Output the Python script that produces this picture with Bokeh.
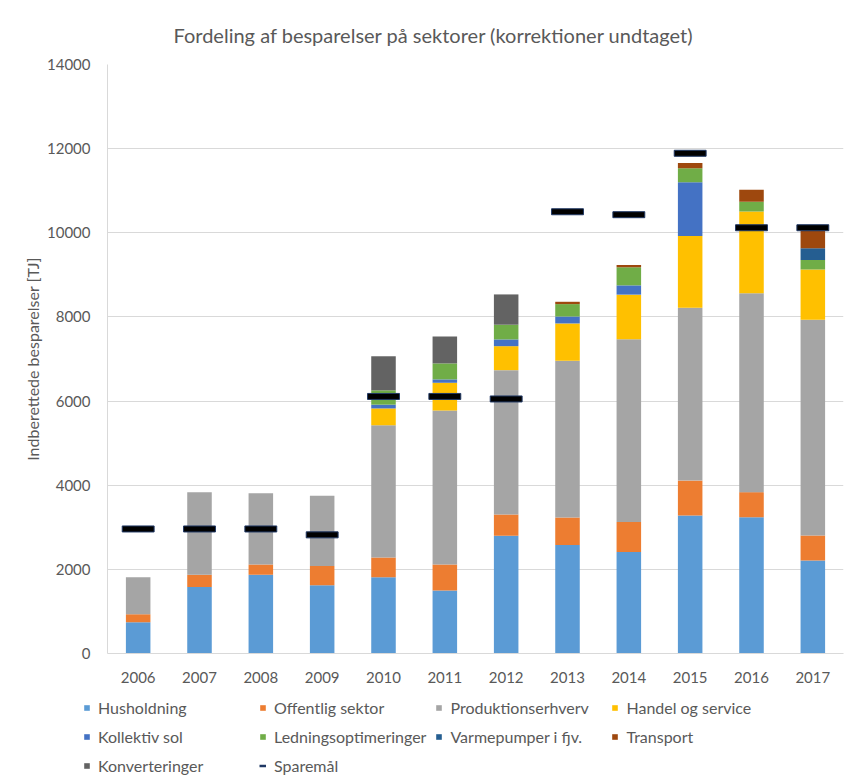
from bokeh.plotting import figure
from bokeh.layouts import column
from bokeh.models import (Legend, LegendItem, ColumnDataSource,
                          FixedTicker, Range1d)
from bokeh.embed import file_html
from bokeh.resources import INLINE

# ---------------- data ----------------
years = ["2006", "2007", "2008", "2009", "2010", "2011",
         "2012", "2013", "2014", "2015", "2016", "2017"]
husholdning = [740, 1580, 1870, 1620, 1810, 1500, 2800, 2580, 2410, 3280, 3240, 2210]
offentlig = [190, 290, 245, 460, 470, 615, 505, 655, 715, 830, 595, 595]
produktion = [880, 1965, 1695, 1670, 3145, 3660, 3430, 3725, 4345, 4110, 4730, 5125]
handel = [0, 0, 0, 0, 400, 660, 570, 885, 1060, 1705, 1940, 1195]
kollektiv_sol = [0, 0, 0, 0, 90, 80, 160, 165, 220, 1275, 0, 0]
ledning = [0, 0, 0, 0, 340, 380, 350, 295, 430, 335, 230, 230]
varmepumper = [0, 0, 0, 0, 0, 0, 0, 0, 0, 0, 0, 275]
transport = [0, 0, 0, 0, 0, 0, 0, 55, 55, 125, 285, 420]
konverteringer = [0, 0, 0, 0, 810, 640, 720, 0, 0, 0, 0, 0]
sparemaal = [2960, 2960, 2960, 2820, 6110, 6110, 6050, 10500, 10430, 11890, 10120, 10120]

series_names = ["Husholdning", "Offentlig sektor", "Produktionserhverv",
                "Handel og service", "Kollektiv sol", "Ledningsoptimeringer",
                "Varmepumper i fjv.", "Transport", "Konverteringer"]
series_values = [husholdning, offentlig, produktion, handel, kollektiv_sol,
                 ledning, varmepumper, transport, konverteringer]
colors = ["#5B9BD5", "#ED7D31", "#A5A5A5", "#FFC000", "#4472C4",
          "#70AD47", "#255E91", "#9E480E", "#636363"]
y_ticks = [0, 2000, 4000, 6000, 8000, 10000, 12000, 14000]
goal_label = "Sparemål"
title_text = "Fordeling af besparelser på sektorer (korrektioner undtaget)"
y_label = "Indberettede besparelser [TJ]"

FONT = "Lato"
TXT = "#595959"
W = 845

keys = ["s%d" % i for i in range(len(series_names))]
data = {"year": years}
for k, v in zip(keys, series_values):
    data[k] = v
source = ColumnDataSource(data)
goal_src = ColumnDataSource(dict(year=years, goal=sparemaal))

# ---------------- main chart ----------------
p = figure(x_range=years, y_range=Range1d(0, 14000), width=W, height=690,
           output_backend="svg", toolbar_location=None,
           min_border_left=107, min_border_right=2, min_border_top=64,
           min_border_bottom=37)
p.background_fill_color = "white"
p.border_fill_color = "white"
p.outline_line_color = None

p.vbar_stack(keys, x="year", width=0.4, source=source,
             fill_color=colors, line_color=None)
p.rect(x="year", y="goal", width=0.52, height=6, height_units="screen",
       fill_color="black", line_color="#203864", line_width=1, source=goal_src)

p.yaxis.ticker = FixedTicker(ticks=y_ticks)
for ax in (p.xaxis, p.yaxis):
    ax.axis_line_color = "#D9D9D9"
    ax.major_tick_line_color = None
    ax.minor_tick_line_color = None
    ax.major_tick_out = 0
    ax.major_tick_in = 0
    ax.major_label_text_color = TXT
    ax.major_label_text_font = FONT
    ax.major_label_text_font_size = "15px"
p.yaxis.major_label_standoff = 17
p.xaxis.major_label_standoff = 18
p.yaxis.axis_label = y_label
p.yaxis.axis_label_text_font = FONT
p.yaxis.axis_label_text_font_size = "16px"
p.yaxis.axis_label_text_font_style = "normal"
p.yaxis.axis_label_text_color = TXT
p.yaxis.axis_label_standoff = 2

p.xgrid.grid_line_color = None
p.ygrid.grid_line_color = "#D9D9D9"

p.title.text = title_text
p.title.align = "left"
p.title.offset = 66
p.title.text_font = FONT
p.title.text_font_size = "20px"
p.title.text_font_style = "normal"
p.title.text_color = TXT
p.title.standoff = 35

# ---------------- legend strip ----------------
lf = figure(width=W, height=90, x_range=years, y_range=Range1d(0, 1),
            output_backend="svg", toolbar_location=None,
            x_axis_location=None, y_axis_location=None, min_border=0)
lf.outline_line_color = None
lf.xgrid.grid_line_color = None
lf.ygrid.grid_line_color = None
lf.background_fill_color = "white"
lf.border_fill_color = "white"

for f in (p, lf):
    if "frame_align" in f.properties():
        f.frame_align = False

swatches = [lf.vbar(x="year", top=k, width=0.4, source=source,
                    fill_color=c, line_color=None, visible=False)
            for k, c in zip(keys, colors)]
goal_swatch = lf.line(x="year", y="goal", source=goal_src,
                      line_color="#1F3864", line_width=2.5, visible=False)

items = [LegendItem(label=n, renderers=[r]) for n, r in zip(series_names, swatches)]
items.append(LegendItem(label=goal_label, renderers=[goal_swatch]))
legend = Legend(items=items, location=(83, 5), orientation="horizontal",
                ncols=4, padding=0, margin=0, spacing=9,
                glyph_width=7, glyph_height=7, label_standoff=8,
                label_width=152, label_height=20,
                label_text_font=FONT, label_text_font_size="16px",
                label_text_color=TXT, border_line_color=None,
                background_fill_alpha=0)
lf.add_layout(legend)

layout = column(p, lf, spacing=0)
open("out.html", "w").write(file_html(layout, INLINE))
